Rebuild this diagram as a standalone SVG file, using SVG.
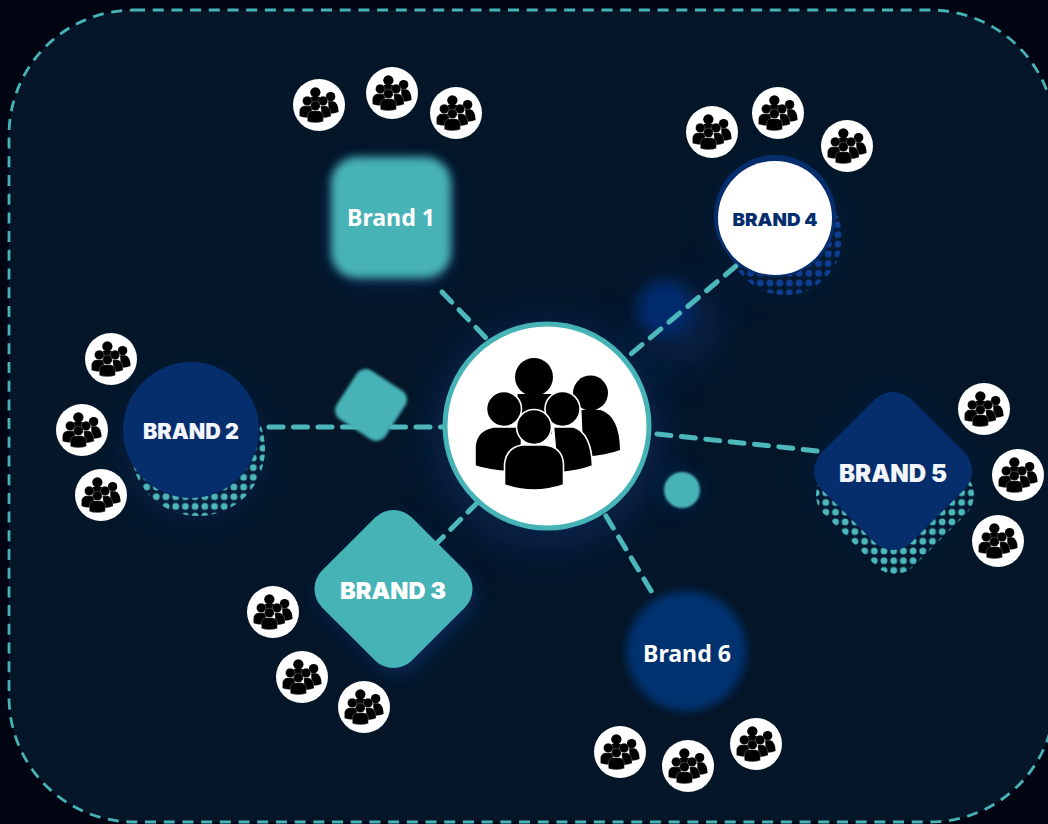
<svg xmlns="http://www.w3.org/2000/svg" width="1048" height="824" viewBox="0 0 1048 824">
<style>
.conn{fill:none;stroke:#4cb8bb;stroke-width:5;stroke-linecap:round;stroke-dasharray:14 10.5}
.dk{fill:#000;stroke:#fff;stroke-width:var(--s,1.6)}
.t{font-family:"Inter","Liberation Sans",sans-serif;font-weight:900;text-anchor:middle;fill:#f2f5fa}
.c{font-family:"Noto Sans","Liberation Sans",sans-serif;font-weight:700;text-anchor:middle;fill:#fff;font-size:24px}
.teal{fill:#46b3b7}
.navy{fill:#062d6c}
</style>
<defs>
<filter id="b20" x="-60%" y="-60%" width="220%" height="220%"><feGaussianBlur stdDeviation="20"/></filter>
<filter id="b10" x="-60%" y="-60%" width="220%" height="220%"><feGaussianBlur stdDeviation="10"/></filter>
<filter id="b6" x="-60%" y="-60%" width="220%" height="220%"><feGaussianBlur stdDeviation="7"/></filter>
<filter id="b4" x="-20%" y="-20%" width="140%" height="140%"><feGaussianBlur stdDeviation="4"/></filter>
<filter id="b2" x="-20%" y="-20%" width="140%" height="140%"><feGaussianBlur stdDeviation="1.600"/></filter>
<filter id="b1" x="-20%" y="-20%" width="140%" height="140%"><feGaussianBlur stdDeviation="0.800"/></filter>
<pattern id="dots2" width="9.7" height="9.7" patternUnits="userSpaceOnUse" patternTransform="translate(161.150 491.850)"><circle cx="4.85" cy="4.85" r="3.4" fill="#4cb8bb"/></pattern>
<pattern id="dots5" width="9.7" height="9.7" patternUnits="userSpaceOnUse" patternTransform="translate(888.850 546.150)"><circle cx="4.85" cy="4.85" r="3.4" fill="#4cb8bb"/></pattern>
<pattern id="dots4" width="9.7" height="9.7" patternUnits="userSpaceOnUse" patternTransform="translate(765.150 278.150)"><circle cx="4.85" cy="4.85" r="3.4" fill="#0f3f94"/></pattern>
<g id="crowd">
<path d="M34-14 H53 Q72-8 72.500 26 Q60 31 36 33 Z" fill="#000"/>
<circle cx="43" cy="-31" r="17.5" fill="#000"/>
<rect x="-30" y="-30" width="34" height="40" fill="#000"/>
<circle cx="-13.500" cy="-47" r="19" fill="#000"/>
<path d="M-72.500 42 V22 Q-71 6-54 3 H-26 L-26 48 Q-55 48-72.500 42 Z" class="dk"/>
<path d="M6 3 H26 Q44 9 45 42 Q32 47 10 49 Z" class="dk"/>
<circle cx="-43.500" cy="-15" r="17.5" class="dk"/>
<circle cx="15" cy="-15" r="17.5" class="dk"/>
<path d="M-43 61 V40 Q-41 23-25 21 H-3 Q15 23 16 40 V61 Q-14 71-43 61 Z" class="dk"/>
<circle cx="-13.500" cy="3" r="17.5" class="dk"/>
</g>
<g id="mini"><circle r="26" fill="#fff"/><use href="#crowd" transform="scale(.27)" filter="url(#b1)" style="--s:.9"/></g>
<clipPath id="c2"><circle cx="198" cy="449" r="67"/></clipPath>
<clipPath id="c4"><circle cx="785" cy="238" r="57"/></clipPath>
<clipPath id="c5"><rect x="-63.500" y="-63.500" width="127" height="127" rx="26" transform="translate(895 495) rotate(45)"/></clipPath>
</defs>
<rect width="1048" height="824" fill="#000511"/>
<rect x="9" y="10" width="1046" height="812" rx="125" fill="#041628" stroke="#46b3b7" stroke-width="2.8" stroke-dasharray="11 7.7"/>

<g id="glows">
<circle cx="547" cy="435" r="115" fill="#0b2f6b" opacity=".55" filter="url(#b20)"/>
<rect x="330" y="160" width="122" height="125" rx="30" fill="#0b2f6b" opacity=".55" filter="url(#b10)"/>
<circle cx="195" cy="450" r="72" fill="#0b2f6b" opacity=".4" filter="url(#b20)"/>
<rect x="-62" y="-62" width="124" height="124" rx="22" transform="translate(398 597) rotate(45)" fill="#0b2f6b" opacity=".7" filter="url(#b10)"/>
<rect x="-62" y="-62" width="124" height="124" rx="22" transform="translate(893 475) rotate(45)" fill="#0b2f6b" opacity=".4" filter="url(#b20)"/>
<circle cx="780" cy="225" r="62" fill="#0b2f6b" opacity=".3" filter="url(#b20)"/>
<circle cx="680" cy="325" r="40" fill="#0b2f6b" opacity=".5" filter="url(#b20)"/>
</g>

<g id="deco">
<circle cx="665" cy="308" r="27" fill="#042b6e" filter="url(#b6)"/>
<circle cx="682" cy="490" r="20" fill="#0c2f6c" opacity=".5" filter="url(#b10)"/>
<circle cx="682" cy="490" r="18" class="teal" filter="url(#b1)"/>
</g>

<g id="connectors">
<path class="conn" d="M442 292L488 340"/>
<path class="conn" d="M269 427H445"/>
<path class="conn" d="M478 502L437 543"/>
<path class="conn" d="M736 266L625 359"/>
<path class="conn" d="M657 434L818 451"/>
<path class="conn" d="M606 516L656 599"/>
</g>

<g id="deco-diamond">
<rect x="-29" y="-29" width="58" height="58" rx="11" class="teal" transform="translate(371 405) rotate(33)" filter="url(#b2)"/>
</g>

<g id="brand1">
<rect x="331" y="157" width="120" height="121" rx="26" class="teal" filter="url(#b4)"/>
<text class="c" x="391" y="226" textLength="88" lengthAdjust="spacingAndGlyphs">Brand 1</text>
<use href="#mini" x="319" y="105"/><use href="#mini" x="392" y="93"/><use href="#mini" x="456" y="113"/>
</g>
<g id="brand2">
<rect x="125" y="375" width="145" height="145" fill="url(#dots2)" clip-path="url(#c2)"/>
<circle cx="191" cy="430" r="68" class="navy"/>
<text class="t" x="191" y="439" font-size="21" textLength="96" lengthAdjust="spacingAndGlyphs">BRAND 2</text>
<use href="#mini" x="111" y="359"/><use href="#mini" x="82" y="430"/><use href="#mini" x="101" y="495"/>
</g>
<g id="brand3">
<rect x="-63.500" y="-63.500" width="127" height="127" rx="26" class="teal" transform="translate(393.500 589) rotate(45)"/>
<text class="t" x="393" y="599" font-size="23.500" textLength="106" lengthAdjust="spacingAndGlyphs" style="fill:#fff">BRAND 3</text>
<use href="#mini" x="273" y="612"/><use href="#mini" x="302" y="677"/><use href="#mini" x="364" y="707"/>
</g>
<g id="brand4">
<rect x="725" y="180" width="122" height="120" fill="url(#dots4)" clip-path="url(#c4)"/>
<circle cx="775" cy="216" r="61" fill="#062d6c"/>
<circle cx="775" cy="218" r="57" fill="#fff"/>
<text class="t" x="775" y="226" font-size="18" textLength="85" lengthAdjust="spacingAndGlyphs" style="fill:#062d6c">BRAND 4</text>
<use href="#mini" x="712" y="132"/><use href="#mini" x="778" y="113"/><use href="#mini" x="847" y="146"/>
</g>
<g id="brand5">
<rect x="810" y="410" width="170" height="170" fill="url(#dots5)" clip-path="url(#c5)"/>
<rect x="-63.500" y="-63.500" width="127" height="127" rx="26" class="navy" transform="translate(893 471) rotate(45)"/>
<text class="t" x="893" y="482" font-size="24" textLength="108" lengthAdjust="spacingAndGlyphs">BRAND 5</text>
<use href="#mini" x="984" y="409"/><use href="#mini" x="1018" y="475"/><use href="#mini" x="998" y="541"/>
</g>
<g id="brand6">
<circle cx="686.500" cy="651" r="60" fill="#04306f" filter="url(#b4)"/>
<text class="c" x="687" y="662" textLength="88" lengthAdjust="spacingAndGlyphs">Brand 6</text>
<use href="#mini" x="620" y="752"/><use href="#mini" x="688" y="766"/><use href="#mini" x="756" y="744"/>
</g>
<g id="hub">
<circle cx="547" cy="426" r="102" fill="#fff" stroke="#46b3b7" stroke-width="5"/>
<use href="#crowd" x="547.500" y="424"/>
</g>
</svg>
